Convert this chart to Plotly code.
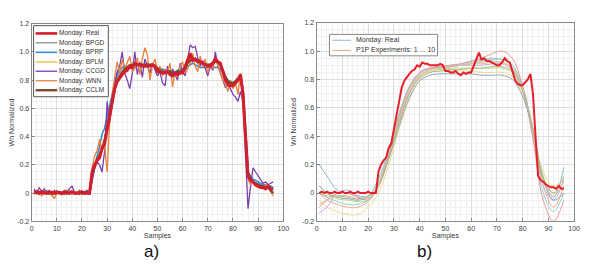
import plotly.graph_objects as go

samples = list(range(1, 97))

real = [0.00,0.01,0.00,0.01,0.00,0.00,0.01,0.00,0.00,0.01,
        0.00,0.00,0.01,0.00,0.00,0.01,0.00,0.00,0.00,0.01,
        0.00,0.00,0.00,
        0.15,0.20,0.23,0.25,0.32,0.35,0.45,
        0.55,0.65,0.74,0.79,0.82,0.84,0.86,0.87,0.90,0.89,
        0.92,0.91,0.91,0.90,0.90,0.90,0.90,0.91,0.90,0.86,
        0.86,0.85,0.85,0.86,0.84,0.83,0.85,0.84,0.85,0.85,
        0.90,0.95,0.99,0.94,0.95,0.93,0.93,0.92,0.91,0.90,
        0.90,0.92,0.95,0.93,0.92,0.86,0.80,0.77,0.76,0.76,
        0.78,0.80,0.84,0.70,0.40,0.12,0.09,0.08,0.06,0.05,
        0.04,0.04,0.03,0.05,0.03,0.03]

bpgd = [0.02,0.00,-0.01,0.01,0.00,0.02,0.00,-0.01,0.01,0.00,
        0.00,0.01,-0.01,0.00,0.02,0.00,0.01,0.00,-0.01,0.01,
        0.00,0.01,0.00,
        0.10,0.18,0.22,0.28,0.33,0.38,0.48,
        0.58,0.68,0.76,0.82,0.85,0.87,0.88,0.90,0.91,0.90,
        0.92,0.90,0.92,0.91,0.90,0.92,0.90,0.91,0.89,0.87,
        0.86,0.87,0.85,0.87,0.85,0.86,0.84,0.86,0.85,0.88,
        0.88,0.93,0.96,0.93,0.94,0.92,0.93,0.91,0.92,0.90,
        0.91,0.93,0.94,0.92,0.90,0.85,0.81,0.78,0.79,0.77,
        0.80,0.82,0.82,0.68,0.38,0.13,0.11,0.09,0.07,0.07,
        0.06,0.05,0.05,0.04,0.04,0.03]

bprp = [0.01,0.01,0.00,0.00,0.01,0.01,0.00,0.00,0.01,0.01,
        0.00,0.00,0.01,0.01,0.00,0.00,0.01,0.01,0.00,0.00,
        0.01,0.01,0.01,
        0.12,0.20,0.26,0.33,0.42,0.46,0.55,
        0.62,0.70,0.78,0.84,0.87,0.89,0.90,0.88,0.91,0.90,
        0.89,0.90,0.90,0.89,0.90,0.89,0.90,0.91,0.90,0.89,
        0.88,0.88,0.87,0.86,0.87,0.86,0.86,0.87,0.88,0.88,
        0.89,0.90,0.91,0.92,0.91,0.90,0.89,0.89,0.89,0.89,
        0.89,0.89,0.89,0.89,0.88,0.86,0.83,0.80,0.79,0.78,
        0.79,0.80,0.81,0.70,0.42,0.15,0.12,0.10,0.09,0.08,
        0.07,0.06,0.06,0.05,0.05,0.04]

bplm = [0.00,0.01,0.01,0.00,0.00,0.01,0.01,0.00,0.01,0.00,
        0.01,0.00,0.00,0.01,0.01,0.00,0.00,0.01,0.00,0.01,
        0.00,0.00,0.01,
        0.14,0.20,0.24,0.28,0.34,0.39,0.47,
        0.57,0.67,0.75,0.81,0.84,0.86,0.88,0.89,0.90,0.90,
        0.91,0.90,0.91,0.90,0.91,0.90,0.91,0.90,0.90,0.87,
        0.86,0.86,0.85,0.86,0.85,0.85,0.85,0.85,0.86,0.87,
        0.90,0.93,0.96,0.94,0.94,0.93,0.92,0.92,0.91,0.90,
        0.91,0.92,0.94,0.92,0.91,0.86,0.81,0.78,0.77,0.77,
        0.79,0.81,0.83,0.69,0.41,0.13,0.10,0.08,0.07,0.06,
        0.05,0.05,0.04,0.04,0.03,0.03]

ccgd = [0.03,0.00,0.04,0.01,0.03,0.00,0.02,-0.01,0.02,0.00,
        0.01,-0.01,0.02,0.01,0.03,0.05,0.01,0.00,0.02,0.00,
        0.01,0.02,-0.01,
        0.08,0.17,0.22,0.20,0.15,0.30,0.65,
        0.50,0.62,0.78,0.86,0.90,1.00,0.85,0.80,0.74,0.85,
        1.00,0.84,0.93,0.82,0.95,0.90,0.85,0.92,0.88,0.83,
        0.86,0.78,0.76,0.90,0.83,0.88,0.84,0.80,0.92,0.86,
        0.83,0.95,1.05,1.03,1.04,0.96,0.90,0.94,0.88,0.83,
        0.90,0.87,1.00,0.90,0.85,0.80,0.75,0.76,0.74,0.70,
        0.68,0.65,0.72,0.65,0.30,-0.11,0.05,0.18,0.15,0.12,
        0.10,0.07,0.08,0.06,0.07,0.08]

wnn = [-0.01,0.01,0.00,-0.02,0.01,0.00,-0.01,-0.01,-0.04,0.00,
       0.01,-0.01,0.00,0.02,0.00,-0.01,0.01,0.00,0.02,-0.01,
       0.00,0.01,0.00,
       0.18,0.26,0.30,0.38,0.30,0.34,0.15,
       0.50,0.70,0.82,0.93,0.85,0.95,0.88,0.92,0.97,0.86,
       0.88,0.96,0.84,0.95,1.03,0.98,0.80,0.90,0.95,0.87,
       0.90,0.83,0.88,0.85,0.92,0.75,0.86,0.82,0.90,0.93,
       0.85,0.88,0.92,0.99,0.90,0.86,0.97,0.89,0.95,0.85,
       0.92,0.88,0.96,0.90,0.86,0.80,0.77,0.72,0.80,0.74,
       0.78,0.70,0.85,0.62,0.35,0.10,0.06,0.08,0.05,0.04,
       0.05,0.03,0.06,0.04,0.01,-0.02]

cclm = [0.01,0.00,0.01,0.00,0.01,0.00,0.00,0.01,0.00,0.00,
        0.01,0.00,0.00,0.01,0.00,0.01,0.00,0.00,0.01,0.00,
        0.00,0.01,0.00,
        0.12,0.19,0.24,0.27,0.31,0.37,0.46,
        0.56,0.66,0.74,0.80,0.83,0.86,0.88,0.89,0.90,0.91,
        0.91,0.91,0.91,0.91,0.91,0.91,0.91,0.91,0.90,0.88,
        0.87,0.86,0.86,0.86,0.86,0.85,0.85,0.86,0.86,0.87,
        0.89,0.92,0.94,0.95,0.95,0.94,0.93,0.92,0.91,0.91,
        0.91,0.92,0.93,0.93,0.91,0.87,0.82,0.79,0.78,0.78,
        0.79,0.81,0.83,0.72,0.42,0.14,0.10,0.08,0.07,0.06,
        0.05,0.05,0.04,0.04,0.02,0.00]

exp_samples = [1, 4, 8, 12, 16, 20, 24, 28, 32, 36, 40, 44, 48, 52, 56, 60,
               64, 68, 72, 76, 80, 84, 88, 92, 96]
exp1 = [0.20,0.12,0.02,0.00,-0.02,-0.02,0.10,0.30,0.55,0.75,0.85,0.88,0.89,0.90,0.91,0.93,0.94,0.95,0.94,0.90,0.75,0.45,0.10,-0.03,0.18]
exp2 = [0.00,-0.05,-0.08,-0.10,-0.10,-0.06,0.05,0.25,0.50,0.70,0.82,0.87,0.88,0.89,0.90,0.91,0.92,0.93,0.92,0.88,0.72,0.42,0.05,-0.10,0.05]
exp3 = [-0.05,-0.10,-0.13,-0.15,-0.15,-0.10,0.00,0.20,0.45,0.66,0.80,0.85,0.86,0.86,0.86,0.86,0.85,0.85,0.85,0.82,0.70,0.45,0.15,0.05,0.10]
exp4 = [-0.14,-0.10,0.00,0.02,-0.02,-0.05,0.05,0.28,0.52,0.72,0.84,0.88,0.89,0.90,0.90,0.90,0.90,0.91,0.91,0.87,0.72,0.42,0.05,-0.05,0.10]
exp5 = [0.05,0.00,-0.04,-0.05,-0.06,-0.05,0.05,0.25,0.50,0.70,0.82,0.86,0.87,0.88,0.88,0.88,0.88,0.88,0.88,0.85,0.72,0.46,0.12,0.00,0.05]
exp6 = [0.00,-0.03,-0.06,-0.08,-0.08,-0.05,0.07,0.30,0.56,0.75,0.85,0.88,0.88,0.89,0.90,0.92,0.93,0.94,0.94,0.90,0.74,0.40,0.00,-0.13,0.00]
exp7 = [-0.10,-0.05,0.00,0.00,-0.03,-0.04,0.06,0.28,0.54,0.74,0.85,0.88,0.89,0.90,0.91,0.93,0.95,0.98,1.00,0.95,0.75,0.38,-0.05,-0.20,-0.05]
exp8 = [0.05,0.00,-0.03,-0.04,-0.05,-0.03,0.05,0.24,0.47,0.67,0.79,0.83,0.84,0.84,0.84,0.84,0.83,0.83,0.83,0.80,0.68,0.44,0.10,-0.05,0.00]
exp9 = [-0.08,-0.05,-0.02,-0.02,-0.04,-0.03,0.06,0.27,0.52,0.72,0.83,0.87,0.88,0.89,0.90,0.91,0.91,0.92,0.92,0.88,0.73,0.44,0.08,-0.02,0.08]
exp10 = [0.00,-0.02,-0.02,-0.03,-0.04,-0.02,0.05,0.26,0.50,0.70,0.81,0.85,0.86,0.87,0.87,0.88,0.88,0.89,0.89,0.86,0.72,0.45,0.10,0.00,0.12]

x_ticks = [0, 10, 20, 30, 40, 50, 60, 70, 80, 90, 100]
y_ticks = [-0.2, 0, 0.2, 0.4, 0.6, 0.8, 1.0, 1.2]
y_tick_text = ["-0.2", "0", "0.2", "0.4", "0.6", "0.8", "1.0", "1.2"]

# page body has an 8px margin; size the figure so it fits the 589x278 window
PAGE_W, PAGE_H = 589, 278
OFF = 8
W, H = PAGE_W - OFF, PAGE_H - OFF
FONT = "Liberation Sans, Arial, sans-serif"


def px_x(p):
    return (p - OFF) / W


def px_y(p):
    return 1 - (p - OFF) / H


fig = go.Figure()

# ----- left panel -----
left_series = [
    ("Monday: Real", real, "#d31f2d", 3.0),
    ("Monday: BPGD", bpgd, "#8f8f8f", 1.3),
    ("Monday: BPRP", bprp, "#2f86d1", 1.5),
    ("Monday: BPLM", bplm, "#ecc54a", 1.5),
    ("Monday: CCGD", ccgd, "#7b3fb4", 1.3),
    ("Monday: WNN", wnn, "#e8803a", 1.3),
    ("Monday: CCLM", cclm, "#7a4a2c", 2.4),
]
draw_order = [1, 2, 3, 4, 5, 6, 0]
for idx in draw_order:
    name, ys, col, w = left_series[idx]
    fig.add_trace(go.Scatter(x=samples, y=ys, name=name, mode="lines",
                             line=dict(color=col, width=w), showlegend=False,
                             xaxis="x", yaxis="y"))

# ----- right panel -----
exps = [exp1, exp2, exp3, exp4, exp5, exp6, exp7, exp8, exp9, exp10]
exp_colors = ["#8fb8d8", "#f2a98a", "#f3d98a", "#c2aee0", "#b5d98e",
              "#94d2c8", "#ec9a9a", "#8fa3bb", "#dcc09c", "#b6b686"]
for i, (ys, col) in enumerate(zip(exps, exp_colors)):
    fig.add_trace(go.Scatter(x=exp_samples, y=ys, mode="lines",
                             line=dict(color=col, width=1, shape="spline"),
                             name="P1P Experiment %d" % (i + 1), showlegend=False,
                             xaxis="x2", yaxis="y2"))
fig.add_trace(go.Scatter(x=samples, y=real, mode="lines", showlegend=False,
                         name="Monday: Real", line=dict(color="#e8202a", width=2),
                         xaxis="x2", yaxis="y2"))

# ----- legends (compact boxes, drawn as shapes + text) -----
shapes = []
annotations = []

def add_legend(box, entries, line_x0, line_x1, text_x, row_y, border, fsize):
    x0, y0, x1, y1 = box
    shapes.append(dict(type="rect", xref="paper", yref="paper",
                       x0=px_x(x0), x1=px_x(x1), y0=px_y(y1), y1=px_y(y0),
                       fillcolor="white", line=dict(color=border, width=1),
                       layer="above"))
    for (label, col, w), yy in zip(entries, row_y):
        shapes.append(dict(type="line", xref="paper", yref="paper",
                           x0=px_x(line_x0), x1=px_x(line_x1),
                           y0=px_y(yy), y1=px_y(yy),
                           line=dict(color=col, width=w), layer="above"))
        annotations.append(dict(text=label, xref="paper", yref="paper",
                                x=px_x(text_x), y=px_y(yy), xanchor="left",
                                yanchor="middle", showarrow=False, borderpad=0,
                                font=dict(size=fsize, color="#333333", family=FONT)))

left_rows = [30, 39.6, 49.4, 59.2, 68.8, 78.6, 88.3]
add_legend((30, 22, 106, 95),
           [(s[0], s[2], min(s[3], 2.6)) for s in left_series],
           32, 54, 55, left_rows, "#555555", 6.5)
add_legend((331, 31, 441, 53),
           [("Monday: Real", exp_colors[0], 1), ("P1P Experiments: 1 ... 10", exp_colors[1], 1)],
           334, 353, 357, [37.0, 47.5], "#888888", 7)

annotations += [
    dict(text="a)", x=px_x(140), y=px_y(266), xref="paper", yref="paper",
         showarrow=False, font=dict(size=17, color="#111111", family=FONT)),
    dict(text="b)", x=px_x(437), y=px_y(266), xref="paper", yref="paper",
         showarrow=False, font=dict(size=17, color="#111111", family=FONT)),
]

axis_common = dict(
    showline=True, mirror=True, linecolor="#8a8a8a", linewidth=1,
    ticks="inside", ticklen=3, tickcolor="#8a8a8a",
    showgrid=True, gridcolor="#dedede", gridwidth=1, zeroline=False,
    tickfont=dict(size=7, color="#404040", family=FONT),
)

xa = dict(axis_common, range=[0, 100], tickvals=x_ticks,
          minor=dict(dtick=2, showgrid=True, gridcolor="#f0f0f0", ticks=""),
          title=dict(text="Samples", font=dict(size=7, color="#404040", family=FONT), standoff=2))
ya = dict(axis_common, range=[-0.2, 1.2], tickvals=y_ticks, ticktext=y_tick_text,
          minor=dict(dtick=0.05, tick0=0, showgrid=True, gridcolor="#f0f0f0", ticks=""),
          title=dict(text="Wh Normalized", font=dict(size=7, color="#404040", family=FONT), standoff=4))

fig.update_layout(
    width=W, height=H,
    margin=dict(l=0, r=0, t=0, b=0),
    paper_bgcolor="white", plot_bgcolor="white",
    font=dict(family=FONT, size=7, color="#404040"),
    showlegend=False,
    xaxis=dict(xa, domain=[px_x(28), px_x(284)], anchor="y"),
    yaxis=dict(ya, domain=[px_y(223), px_y(20)], anchor="x"),
    xaxis2=dict(xa, domain=[px_x(318), px_x(580)], anchor="y2"),
    yaxis2=dict(ya, domain=[px_y(223), px_y(19)], anchor="x2"),
    shapes=shapes,
    annotations=annotations,
)

fig.write_html("out.html")
